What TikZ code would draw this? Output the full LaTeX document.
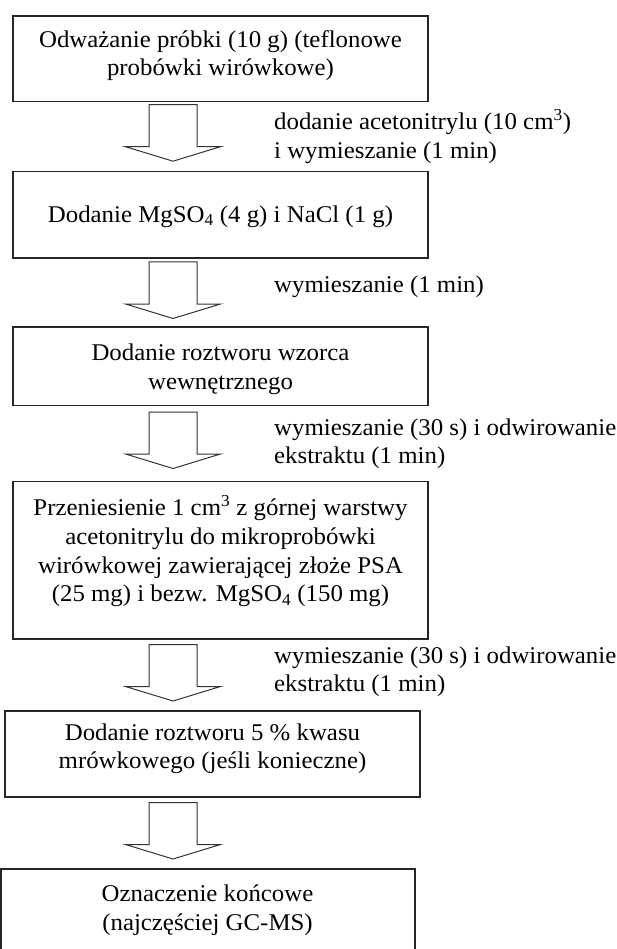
\documentclass[tikz,border=0pt]{standalone}
\usepackage{fontspec}
\setmainfont{Liberation Serif}[FakeStretch=1.035]
\begin{document}
\begin{tikzpicture}[x=1pt,y=-1pt,
  box/.style={draw=black!85, line width=1.2pt, inner sep=0pt, fill=white},
  txt/.style={inner sep=0pt, align=center, font=\fontsize{24}{28.7}\selectfont},
  lab/.style={inner sep=0pt, align=left, anchor=west, font=\fontsize{24}{28.7}\selectfont},
  arrline/.style={draw=black!80, line width=1pt, fill=white, line join=miter},
  blockarr/.pic={\path[arrline] (-24,0) -- (24,0) -- (24,42) -- (47.5,42) -- (0,56.5) -- (-47.5,42) -- (-24,42) -- cycle;}
]
\clip (0,0) rectangle (616,949);
\fill[white] (0,0) rectangle (616,949);
% boxes
\node[box, minimum width=415pt, minimum height=85.5pt] (b1) at (220.5,58.75) {};
\node[box, minimum width=415pt, minimum height=86.5pt] (b2) at (220.5,214.75) {};
\node[box, minimum width=415pt, minimum height=78.5pt] (b3) at (220.5,366.25) {};
\node[box, minimum width=415pt, minimum height=157.5pt] (b4) at (220.5,560.25) {};
\node[box, minimum width=415pt, minimum height=86pt] (b5) at (212.5,754) {};
\node[box, minimum width=414pt, minimum height=120pt] (b6) at (208,929) {};
% box texts
\node[txt] (t1) at (220.5,55.6) {Odważanie próbki (10 g) (teflonowe\\probówki wirówkowe)};
\node[txt] (t2) at (220.5,216.3) {Dodanie MgSO\textsubscript{4} (4 g) i NaCl (1 g)};
\node[txt] (t3) at (220.5,369.6) {Dodanie roztworu wzorca\\wewnętrznego};
\node[txt] (t4) at (220.5,551.4) {Przeniesienie 1 cm\textsuperscript{3} z górnej warstwy\\acetonitrylu do mikroprobówki\\wirówkowej zawierającej złoże PSA\\(25 mg) i bezw. MgSO\textsubscript{4} (150 mg)};
\node[txt] (t5) at (212.5,748.7) {Dodanie roztworu 5 \% kwasu\\mrówkowego (jeśli konieczne)};
\node[txt] (t6) at (207.5,910.4) {Oznaczenie końcowe\\(najczęściej GC-MS)};
% block arrows
\pic at (173,104.7) {blockarr};
\pic at (173,262) {blockarr};
\pic at (173,412) {blockarr};
\pic at (173,644.5) {blockarr};
\pic at (173,802.5) {blockarr};
% arrow labels
\node[lab] (l1) at (274,136.7) {dodanie acetonitrylu (10 cm\textsuperscript{3})\\i wymieszanie (1 min)};
\node[lab] (l2) at (274,286.3) {wymieszanie (1 min)};
\node[lab] (l3) at (274,443.7) {wymieszanie (30 s) i odwirowanie\\ekstraktu (1 min)};
\node[lab] (l4) at (274,671.7) {wymieszanie (30 s) i odwirowanie\\ekstraktu (1 min)};
\end{tikzpicture}
\end{document}
